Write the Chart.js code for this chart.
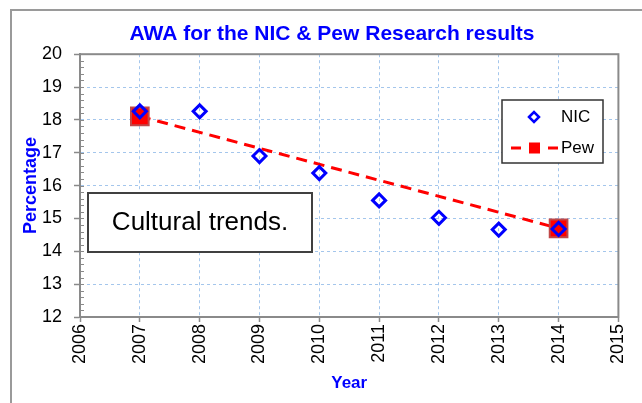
<!DOCTYPE html>
<html>
<head>
<meta charset="utf-8">
<title>AWA for the NIC & Pew Research results</title>
<script src="https://cdn.jsdelivr.net/npm/chart.js@4.4.1/dist/chart.umd.min.js"></script>
<style>
html, body { margin: 0; padding: 0; background: #fff; }
#wrap { position: relative; width: 642px; height: 403px; }
</style>
</head>
<body>
<div id="wrap"><canvas id="awaChart" width="642" height="403"></canvas></div>
<script>
// data
const nicYears = [2007, 2008, 2009, 2010, 2011, 2012, 2013, 2014];
const nicValues = [18.26, 18.26, 16.90, 16.38, 15.55, 15.02, 14.66, 14.68];
const pewYears = [2007, 2014];
const pewValues = [18.11, 14.70];
const xTickValues = [2006, 2007, 2008, 2009, 2010, 2011, 2012, 2013, 2014, 2015];
const yTickValues = [12, 13, 14, 15, 16, 17, 18, 19, 20];

const FONT = "'Liberation Sans', Arial, Helvetica, sans-serif";
const BLUE = '#0000FF';
const RED = '#FF0000';
const GRID = '#A4C6EC';
const FRAME = '#8A8A8A';

Chart.defaults.font.family = FONT;

// outer border, plot frame, minor ticks, legend and note box
const decorations = {
    id: 'decorations',
    beforeDraw(chart){
        const ctx = chart.ctx;
        ctx.save();
        ctx.fillStyle = '#fff';
        ctx.fillRect(0, 0, chart.width, chart.height);
        ctx.strokeStyle = '#9A9A9A';
        ctx.lineWidth = 2;
        ctx.beginPath();
        ctx.moveTo(11, chart.height);
        ctx.lineTo(11, 10);
        ctx.lineTo(chart.width, 10);
        ctx.stroke();
        ctx.restore();
    },
    beforeDatasetsDraw(chart){
        const ctx = chart.ctx;
        const a = chart.chartArea;
        const ys = chart.scales.y;
        ctx.save();
        ctx.strokeStyle = FRAME;
        ctx.lineWidth = 1;
        // small ticks every 0.2 on the inside of the value axis
        for(let i = 0; i <= 40; i++){
            const py = Math.round(ys.getPixelForValue(12 + i * 0.2)) + 0.5;
            ctx.beginPath();
            ctx.moveTo(a.left, py);
            ctx.lineTo(a.left + 4, py);
            ctx.stroke();
        }
        ctx.lineWidth = 2;
        ctx.strokeRect(a.left, a.top, a.right - a.left, a.bottom - a.top);
        ctx.restore();
    },
    afterDraw(chart){
        const ctx = chart.ctx;
        ctx.save();
        // note box
        ctx.fillStyle = '#fff';
        ctx.fillRect(88, 193, 224, 59);
        ctx.strokeStyle = '#404040';
        ctx.lineWidth = 2;
        ctx.strokeRect(88, 193, 224, 59);
        ctx.fillStyle = '#000';
        ctx.font = '26px ' + FONT;
        ctx.textAlign = 'center';
        ctx.textBaseline = 'middle';
        ctx.fillText('Cultural trends.', 200, 223);

        // legend
        ctx.fillStyle = '#fff';
        ctx.fillRect(502, 100, 101, 63);
        ctx.strokeStyle = '#333';
        ctx.lineWidth = 1.5;
        ctx.strokeRect(502, 100, 101, 63);

        ctx.strokeStyle = BLUE;
        ctx.lineWidth = 2.5;
        ctx.beginPath();
        ctx.moveTo(529, 117);
        ctx.lineTo(534, 112);
        ctx.lineTo(539, 117);
        ctx.lineTo(534, 122);
        ctx.closePath();
        ctx.stroke();

        ctx.strokeStyle = RED;
        ctx.lineWidth = 3;
        ctx.beginPath();
        ctx.moveTo(511, 148); ctx.lineTo(521, 148);
        ctx.moveTo(548, 148); ctx.lineTo(558, 148);
        ctx.stroke();
        ctx.fillStyle = RED;
        ctx.fillRect(529, 142.5, 11, 11);

        ctx.fillStyle = '#000';
        ctx.font = '17px ' + FONT;
        ctx.textAlign = 'left';
        ctx.fillText('NIC', 561, 117);
        ctx.fillText('Pew', 561, 148);
        ctx.restore();
    }
};

const toPoints = (xs, ys) => xs.map((x, i) => ({ x: x, y: ys[i] }));

new Chart(document.getElementById('awaChart'), {
    type: 'scatter',
    data: {
        datasets: [{
            label: 'NIC',
            data: toPoints(nicYears, nicValues),
            pointStyle: 'rectRot',
            pointRadius: 6.5,
            pointBorderWidth: 3,
            pointBorderColor: BLUE,
            pointBackgroundColor: 'rgba(0,0,0,0)',
            showLine: false
        }, {
            label: 'Pew',
            data: toPoints(pewYears, pewValues),
            showLine: true,
            borderColor: RED,
            borderWidth: 3,
            borderDash: [11, 7],
            pointStyle: 'rect',
            pointRadius: 12.5,
            pointBorderWidth: 2,
            pointBorderColor: '#C04848',
            pointBackgroundColor: RED
        }]
    },
    options: {
        responsive: false,
        animation: false,
        events: [],
        layout: { padding: { left: 41, right: 19, top: 0, bottom: 0 } },
        plugins: {
            legend: { display: false },
            tooltip: { enabled: false },
            title: {
                display: true,
                text: 'AWA for the NIC & Pew Research results',
                color: BLUE,
                font: { size: 21, weight: 'bold' },
                padding: { top: 22, bottom: 7 }
            }
        },
        scales: {
            x: {
                type: 'linear',
                min: 2006,
                max: 2015,
                afterBuildTicks: s => { s.ticks = xTickValues.map(v => ({ value: v })); },
                afterFit: s => { s.height = 86; },
                ticks: {
                    color: '#000',
                    font: { size: 18 },
                    minRotation: 90,
                    maxRotation: 90,
                    padding: 2,
                    callback: v => String(v)
                },
                grid: { color: GRID, lineWidth: 1, tickLength: 5, tickColor: FRAME, tickWidth: 1.5 },
                border: { color: FRAME, width: 2, dash: [3, 3] },
                title: {
                    display: true,
                    text: 'Year',
                    color: BLUE,
                    font: { size: 17, weight: 'bold' },
                    padding: { top: 0, bottom: 9 }
                }
            },
            y: {
                min: 12,
                max: 20,
                afterBuildTicks: s => { s.ticks = yTickValues.map(v => ({ value: v })); },
                afterFit: s => { s.width = 39; },
                ticks: { color: '#000', font: { size: 18 }, padding: 12 },
                grid: { color: GRID, lineWidth: 1, tickLength: 6, tickColor: FRAME, tickWidth: 1.5 },
                border: { color: FRAME, width: 2, dash: [3, 3] },
                title: {
                    display: true,
                    text: 'Percentage',
                    color: BLUE,
                    font: { size: 18, weight: 'bold' },
                    padding: { top: -21, bottom: 0 }
                }
            }
        }
    },
    plugins: [decorations]
});
</script>
</body>
</html>
